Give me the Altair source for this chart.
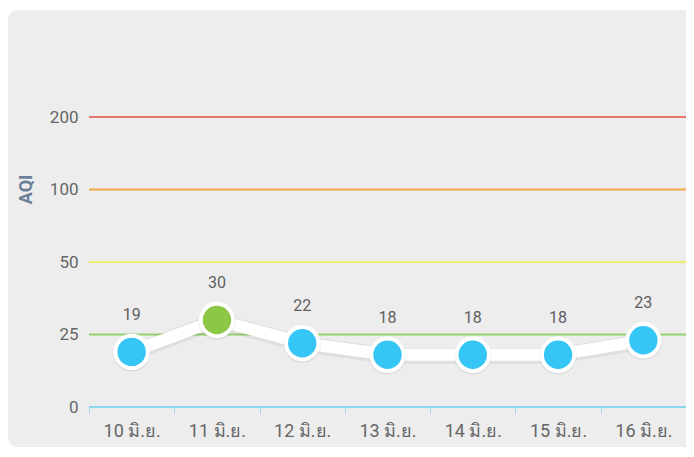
import altair as alt
import pandas as pd

days = ["10 มิ.ย.", "11 มิ.ย.", "12 มิ.ย.", "13 มิ.ย.", "14 มิ.ย.", "15 มิ.ย.", "16 มิ.ย."]
aqi = [19, 30, 22, 18, 18, 18, 23]
levels = [0, 25, 50, 100, 200]
level_colors = ["#8ad7ee", "#93d16c", "#f1ec70", "#f3a646", "#e9766b"]
point_breaks = [26, 51, 101, 201]
point_colors = ["#36c6f6", "#8cc745", "#f2e45a", "#f39c33", "#e8604c"]

W, H = 597, 290
FONT = "Roboto"

df = pd.DataFrame({"day": days, "aqi": aqi})
lv = pd.DataFrame({"level": levels, "color": level_colors})

yscale = alt.Scale(domain=levels, range=[H, H * 0.75, H * 0.5, H * 0.25, 0])
xenc = alt.X(
    "day:N",
    sort=days,
    scale=alt.Scale(type="band", paddingInner=0, paddingOuter=0),
    axis=alt.Axis(
        title=None, domain=False, ticks=True, tickBand="extent", tickColor="#9ad9ee",
        tickSize=6, tickWidth=1, labelFontSize=18, labelColor="#666666", labelPadding=9,
        labelFont=FONT, labelAngle=0, zindex=1,
    ),
)
yenc = alt.Y(
    "aqi:Q",
    scale=yscale,
    axis=alt.Axis(
        values=levels, domain=False, ticks=False, grid=False, labelFontSize=17,
        labelColor="#666666", labelPadding=11, labelFont=FONT,
        title="AQI", titleFontSize=18, titleColor="#6b7f99", titleFontWeight="bold",
        titleFont=FONT, titleX=-63, titleY=72, titleAngle=270, titleAlign="center",
        titleBaseline="middle", zindex=1,
    ),
)

panel = alt.Chart(pd.DataFrame({"a": [0]})).mark_rect(
    color="#ededed", cornerRadius=10
).encode(
    x=alt.value(-81), x2=alt.value(W + 10), y=alt.value(-107), y2=alt.value(330)
)

rules = alt.Chart(lv).mark_rule(strokeWidth=2).encode(
    y=alt.Y("level:Q", scale=yscale),
    color=alt.Color("color:N", scale=None),
)

base = alt.Chart(df).encode(x=xenc, y=yenc)

line_shadow = base.mark_line(color="#000000", opacity=0.06, strokeWidth=16, yOffset=1)
line = base.mark_line(color="#ffffff", strokeWidth=12)
pt_shadow = base.mark_point(
    filled=True, shape="circle", size=1400, color="#000000", opacity=0.08, yOffset=1
)
points = base.mark_point(
    filled=True, shape="circle", size=1050, stroke="#ffffff", strokeWidth=4, opacity=1
).encode(
    color=alt.Color("aqi:Q", scale=alt.Scale(type="threshold", domain=point_breaks, range=point_colors), legend=None)
)
labels = base.mark_text(dy=-37, fontSize=16, color="#606060", font=FONT, baseline="middle").encode(
    text="aqi:Q"
)

chart = alt.layer(panel, rules, line_shadow, line, pt_shadow, points, labels).properties(
    width=W,
    height=H,
    padding={"left": 81, "top": 109, "right": 0, "bottom": 41},
    autosize=alt.AutoSizeParams(type="none"),
    background="#ffffff",
).configure_view(stroke=None)

chart.save("out.html", embed_options={"renderer": "svg", "actions": False})
